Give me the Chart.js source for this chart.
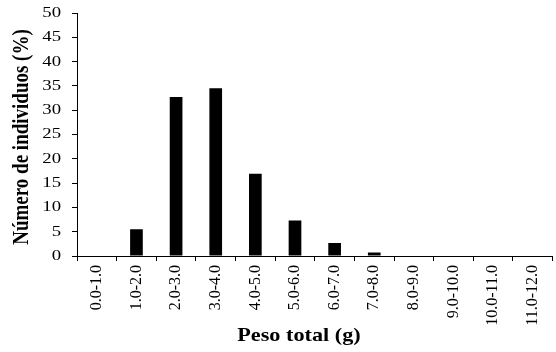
<!DOCTYPE html>
<html>
<head>
<meta charset="utf-8">
<script src="https://cdn.jsdelivr.net/npm/chart.js@4"></script>
<style>
  html, body { margin: 0; padding: 0; background: #ffffff; }
  #wrap { width: 556px; height: 352px; }
</style>
</head>
<body>
<div id="wrap"><canvas id="chart" width="556" height="352"></canvas></div>
<script>
// Weight classes (g)
const categories = ['0.0-1.0', '1.0-2.0', '2.0-3.0', '3.0-4.0', '4.0-5.0', '5.0-6.0',
                    '6.0-7.0', '7.0-8.0', '8.0-9.0', '9.0-10.0', '10.0-11.0', '11.0-12.0'];
// Share of individuals in each class (%)
const percentages = [0, 5.5, 32.7, 34.5, 16.9, 7.3, 2.7, 0.7, 0, 0, 0, 0];
// Y axis range and step
const yMin = 0, yMax = 50, yStep = 5;
const xTitle = 'Peso total (g)';
const yTitle = 'Número de individuos (%)';

const serif = "'Liberation Serif', 'Times New Roman', serif";

// Wide-set serif text: axis titles and the y tick values, drawn slightly stretched
const axisText = {
  id: 'axisText',
  afterDraw(chart) {
    const ctx = chart.ctx;
    const y = chart.scales.y;
    ctx.save();
    ctx.fillStyle = '#000';

    // y tick values, placed by the y scale
    ctx.font = '15px ' + serif;
    ctx.textAlign = 'right';
    ctx.textBaseline = 'middle';
    y.ticks.forEach(t => {
      const py = y.getPixelForValue(t.value);
      ctx.save();
      ctx.translate(61, py);
      ctx.scale(1.25, 1);
      ctx.fillText(String(t.value), 0, 0);
      ctx.restore();
    });

    // x axis title
    ctx.textAlign = 'center';
    ctx.textBaseline = 'middle';
    ctx.save();
    ctx.translate(299, 336);
    ctx.scale(1.17, 1);
    ctx.font = 'bold 19px ' + serif;
    ctx.fillText(xTitle, 0, 0);
    ctx.restore();

    // y axis title
    ctx.save();
    ctx.translate(22, 137);
    ctx.scale(1.17, 1);
    ctx.rotate(-Math.PI / 2);
    ctx.font = 'bold 19px ' + serif;
    ctx.fillText(yTitle, 0, 0);
    ctx.restore();

    ctx.restore();
  }
};

new Chart(document.getElementById('chart'), {
  type: 'bar',
  data: {
    labels: categories,
    datasets: [{
      data: percentages,
      backgroundColor: '#000',
      borderWidth: 0,
      barPercentage: 0.32,
      categoryPercentage: 1.0
    }]
  },
  options: {
    responsive: false,
    animation: false,
    layout: { padding: { top: 13, right: 0, bottom: 0, left: 0 } },
    plugins: { legend: { display: false }, tooltip: { enabled: false } },
    scales: {
      x: {
        afterFit(scale) { scale.height = 96; },
        border: { color: '#000', width: 1 },
        grid: { drawOnChartArea: false, drawTicks: true, tickLength: 5, color: '#000', offset: true },
        ticks: {
          color: '#000',
          font: { family: serif, size: 16 },
          minRotation: 90, maxRotation: 90,
          autoSkip: false,
          padding: 4
        }
      },
      y: {
        min: yMin, max: yMax,
        afterFit(scale) { scale.width = 77; },
        border: { color: '#000', width: 1 },
        grid: { drawOnChartArea: false, drawTicks: true, tickLength: 5, color: '#000' },
        ticks: {
          display: false,
          stepSize: yStep
        }
      }
    }
  },
  plugins: [axisText]
});
</script>
</body>
</html>
